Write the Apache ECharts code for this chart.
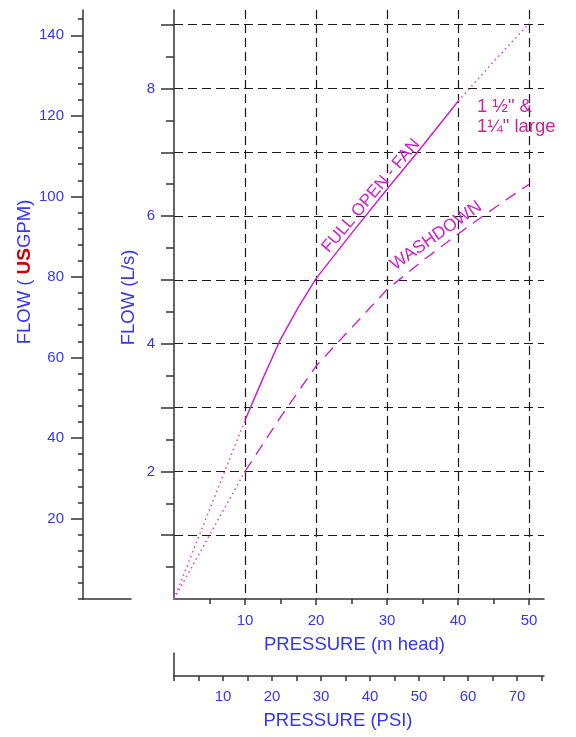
<!DOCTYPE html>
<html>
<head>
<meta charset="utf-8">
<script src="https://cdn.jsdelivr.net/npm/echarts@6/dist/echarts.min.js"></script>
<style>
html,body{margin:0;padding:0;background:#fff;}
#c{width:576px;height:737px;}
</style>
</head>
<body>
<div id="c"></div>
<script>
// ---- data (pressure in m head, flow in L/s) ----
const fullOpenDotLow  = [[0, 0], [10, 2.8]];
const fullOpenSolid   = [[10, 2.8], [12.5, 3.45], [15, 4.07], [17.5, 4.57], [20, 5.02], [25, 5.73], [30, 6.42], [35, 7.1], [40, 7.8]];
const fullOpenDotHigh = [[40, 7.8], [45, 8.42], [50, 9.02]];
const washDotLow      = [[0, 0], [10, 2.0]];
const washDashed      = [[10, 2.0], [15, 2.85], [20, 3.65], [25, 4.25], [30, 4.85], [35, 5.3], [40, 5.72], [45, 6.12], [50, 6.5]];

// ---- axis ticks / labels ----
const mHeadTicks  = [10, 20, 30, 40, 50];
const mHeadMinor  = [5, 15, 25, 35, 45];
const psiTicks    = [0, 5, 10, 15, 20, 25, 30, 35, 40, 45, 50, 55, 60, 65, 70, 75];
const psiLabels   = [10, 20, 30, 40, 50, 60, 70];
const lpsTicks    = [1, 2, 3, 4, 5, 6, 7, 8, 9];
const lpsLabels   = [2, 4, 6, 8];
const lpsMinor    = [0.5, 1.5, 2.5, 3.5, 4.5, 5.5, 6.5, 7.5, 8.5];
const gpmTicks    = [20, 40, 60, 80, 100, 120, 140];
const gpmLabels   = [20, 40, 60, 80, 100, 120, 140];
const gpmMinor    = [0, 4, 8, 12, 16, 24, 28, 32, 36, 44, 48, 52, 56, 64, 68, 72, 76, 84, 88, 92, 96, 104, 108, 112, 116, 124, 128, 132, 136, 144];

const LPS_MAX = 9.23;
const GPM_PER_LPS = 15.85;
const M_MAX = 52.1;
const PSI_MAX = 75.5;

const FONT = "'Liberation Sans', Arial, sans-serif";
const BLUE = '#3535f5';
const AXIS = '#333333';
const MAG = '#cc22cc';
const MAG_DOT = '#e050e0';
const GRID_LINE = {show: true, showMinLine: true, showMaxLine: true, lineStyle: {color: '#1a1a1a', width: 1.2, type: [9, 5]}};

const chart = echarts.init(document.getElementById('c'), null, {renderer: 'canvas'});

const lblStyle = {color: BLUE, fontSize: 15, fontFamily: FONT};
const nameStyle = {color: BLUE, fontSize: 18.5, fontFamily: FONT};

chart.setOption({
  animation: false,
  backgroundColor: '#ffffff',
  grid: [
    {left: 174, right: 32, top: 10, bottom: 138},
    {left: 83, width: 48, top: 10, bottom: 138},
    {left: 174, right: 32, top: 653, height: 23}
  ],
  xAxis: [
    { // m head
      type: 'value', gridIndex: 0, min: 0, max: M_MAX, interval: 10, position: 'bottom',
      axisLine: {show: true, lineStyle: {color: AXIS, width: 1.5}},
      axisTick: {show: true, customValues: mHeadTicks, length: 6, lineStyle: {color: AXIS, width: 1.5}},
      axisLabel: Object.assign({show: true, customValues: mHeadTicks, margin: 14}, lblStyle),
      splitLine: GRID_LINE,
      name: 'PRESSURE (m head)', nameLocation: 'middle', nameGap: 36,
      nameTextStyle: Object.assign({padding: [0, 9, 0, 0]}, nameStyle)
    },
    { // m head minor ticks
      type: 'value', gridIndex: 0, min: 0, max: M_MAX, position: 'bottom',
      axisLine: {show: false},
      axisTick: {show: true, customValues: mHeadMinor, length: 5, lineStyle: {color: AXIS, width: 1.5}},
      axisLabel: {show: false}, splitLine: {show: false}
    },
    { // GPM base line
      type: 'value', gridIndex: 1, min: 0, max: 1, position: 'bottom',
      axisLine: {show: true, lineStyle: {color: AXIS, width: 1.5}},
      axisTick: {show: false}, axisLabel: {show: false}, splitLine: {show: false}
    },
    { // PSI
      type: 'value', gridIndex: 2, min: 0, max: PSI_MAX, position: 'bottom',
      axisLine: {show: true, lineStyle: {color: AXIS, width: 1.5}},
      axisTick: {show: true, customValues: psiTicks, length: 5, lineStyle: {color: AXIS, width: 1.5}},
      axisLabel: Object.assign({show: true, customValues: psiLabels, margin: 13}, lblStyle),
      splitLine: {show: false},
      name: 'PRESSURE (PSI)', nameLocation: 'middle', nameGap: 35,
      nameTextStyle: Object.assign({padding: [0, 42, 0, 0]}, nameStyle)
    }
  ],
  yAxis: [
    { // L/s
      type: 'value', gridIndex: 0, min: 0, max: LPS_MAX, interval: 1, position: 'left',
      axisLine: {show: true, lineStyle: {color: AXIS, width: 1.5}},
      axisTick: {show: true, customValues: lpsTicks, length: 13, lineStyle: {color: AXIS, width: 1.5}},
      axisLabel: Object.assign({show: true, customValues: lpsLabels, margin: 19, verticalAlign: 'middle', padding: [0, 0, 13, 0]}, lblStyle),
      splitLine: GRID_LINE,
      name: 'FLOW (L/s)', nameLocation: 'middle', nameGap: 36, nameRotate: 90, nameMoveOverlap: false,
      nameTextStyle: Object.assign({padding: [0, 0, 0, 14]}, nameStyle)
    },
    { // L/s minor ticks
      type: 'value', gridIndex: 0, min: 0, max: LPS_MAX, position: 'left',
      axisLine: {show: false},
      axisTick: {show: true, customValues: lpsMinor, length: 8, lineStyle: {color: AXIS, width: 1.5}},
      axisLabel: {show: false}, splitLine: {show: false}
    },
    { // US GPM
      type: 'value', gridIndex: 1, min: 0, max: LPS_MAX * GPM_PER_LPS, position: 'left',
      axisLine: {show: true, lineStyle: {color: AXIS, width: 1.5}},
      axisTick: {show: true, customValues: gpmTicks, length: 12, lineStyle: {color: AXIS, width: 1.5}},
      axisLabel: Object.assign({show: true, customValues: gpmLabels, margin: 19, verticalAlign: 'middle', padding: [0, 0, 13, 0]}, lblStyle),
      splitLine: {show: false},
      name: '{b|FLOW ( }{r|US}{b|GPM)}', nameLocation: 'middle', nameGap: 49, nameRotate: 90, nameMoveOverlap: false,
      nameTextStyle: {
        padding: [0, 0, 0, 65],
        rich: {
          b: {color: BLUE, fontSize: 18.5, fontFamily: FONT},
          r: {color: '#cc0000', fontSize: 19, fontFamily: FONT, fontWeight: 'bold'}
        }
      }
    },
    { // GPM minor ticks
      type: 'value', gridIndex: 1, min: 0, max: LPS_MAX * GPM_PER_LPS, position: 'left',
      axisLine: {show: false},
      axisTick: {show: true, customValues: gpmMinor, length: 5, lineStyle: {color: AXIS, width: 1.5}},
      axisLabel: {show: false}, splitLine: {show: false}
    },
    { // PSI stub
      type: 'value', gridIndex: 2, min: 0, max: 1, position: 'left',
      axisLine: {show: true, lineStyle: {color: AXIS, width: 1.5}},
      axisTick: {show: false}, axisLabel: {show: false}, splitLine: {show: false}
    }
  ],
  series: [
    {
      type: 'line', xAxisIndex: 0, yAxisIndex: 0, data: fullOpenDotLow, symbol: 'none', silent: true,
      lineStyle: {color: MAG_DOT, width: 1.6, type: [1.6, 3.4]}
    },
    {
      type: 'line', xAxisIndex: 0, yAxisIndex: 0, data: fullOpenSolid, symbol: 'none', silent: true,
      lineStyle: {color: MAG, width: 1.5, type: 'solid'},
      markPoint: {
        symbol: 'circle', symbolSize: 1, itemStyle: {color: 'rgba(0,0,0,0)'}, silent: true,
        data: [
          {coord: [27.75, 6.32], label: {show: true, position: 'inside', formatter: 'FULL OPEN - FAN', rotate: 50, color: MAG, fontSize: 17, fontFamily: FONT}},
          {coord: [36.9, 5.69], label: {show: true, position: 'inside', formatter: 'WASHDOWN', rotate: 35, color: MAG, fontSize: 17.5, fontFamily: FONT}},
          {coord: [42.6, 7.555], label: {show: true, position: 'right', distance: 0, align: 'left', formatter: '1 \u00BD" &\n1\u00BC" large', color: '#cc2299', fontSize: 18.5, lineHeight: 20, fontFamily: FONT}}
        ]
      }
    },
    {
      type: 'line', xAxisIndex: 0, yAxisIndex: 0, data: fullOpenDotHigh, symbol: 'none', silent: true,
      lineStyle: {color: MAG_DOT, width: 1.6, type: [1.6, 3.4]}
    },
    {
      type: 'line', xAxisIndex: 0, yAxisIndex: 0, data: washDotLow, symbol: 'none', silent: true,
      lineStyle: {color: MAG_DOT, width: 1.6, type: [1.6, 3.4]}
    },
    {
      type: 'line', xAxisIndex: 0, yAxisIndex: 0, data: washDashed, symbol: 'none', silent: true,
      lineStyle: {color: MAG, width: 1.4, type: [12, 8]}
    }
  ]
});
</script>
</body>
</html>
